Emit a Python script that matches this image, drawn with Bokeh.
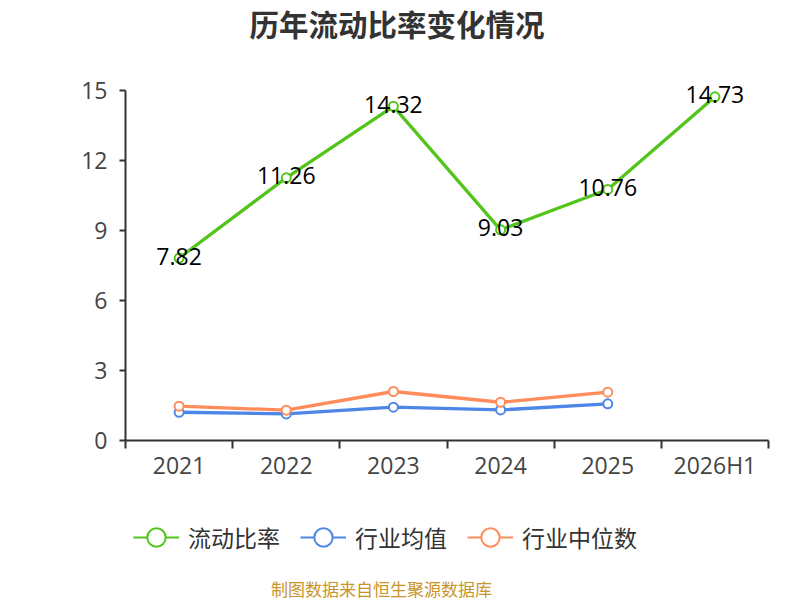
from bokeh.plotting import figure
from bokeh.layouts import column
from bokeh.models import (Range1d, FixedTicker, LinearAxis, ColumnDataSource, Legend, LegendItem,
                          Label, LabelSet)
from bokeh.core.properties import value
from bokeh.embed import file_html
from bokeh.resources import INLINE

# ---- data ----
categories = ["2021", "2022", "2023", "2024", "2025", "2026H1"]
current_ratio = [7.82, 11.26, 14.32, 9.03, 10.76, 14.73]
industry_avg = [1.21, 1.14, 1.43, 1.31, 1.57]
industry_median = [1.47, 1.30, 2.10, 1.64, 2.07]
y_ticks = [0, 3, 6, 9, 12, 15]
series_names = ["流动比率", "行业均值", "行业中位数"]
title_text = "历年流动比率变化情况"
source_text = "制图数据来自恒生聚源数据库"

GREEN = "#52c41a"
BLUE = "#4e86e8"
ORANGE = "#ff8c5a"
CJK = "Noto Sans CJK SC"
LAT = "Open Sans"

W = 800
FRAME_LEFT, FRAME_RIGHT = 125, 768
FRAME_BOTTOM = 440          # canvas px of y = 0
AXIS_AREA = 52
H1 = FRAME_BOTTOM + AXIS_AREA
H2 = 600 - H1
PX_PER_UNIT = 350 / 15.0
y_top = FRAME_BOTTOM / PX_PER_UNIT   # frame reaches canvas top (title lives inside frame)

p = figure(width=W, height=H1, output_backend="svg", toolbar_location=None,
           x_range=Range1d(-0.5, len(categories) - 0.5), y_range=Range1d(0, y_top),
           min_border_left=FRAME_LEFT, min_border_right=W - FRAME_RIGHT, min_border_top=0,
           min_border_bottom=AXIS_AREA, x_axis_type=None, y_axis_type=None)
p.outline_line_color = None
p.background_fill_color = "white"

# axes
xaxis = LinearAxis(ticker=FixedTicker(ticks=list(range(len(categories))),
                                      minor_ticks=[i - 0.5 for i in range(len(categories) + 1)]))
xaxis.major_label_overrides = {i: c for i, c in enumerate(categories)}
xaxis.major_tick_out = 0
xaxis.major_tick_in = 0
xaxis.minor_tick_out = 8
xaxis.minor_tick_in = 0
xaxis.minor_tick_line_color = "#333333"
xaxis.minor_tick_line_width = 2
xaxis.axis_line_color = "#333333"
xaxis.axis_line_width = 2
xaxis.major_label_text_font = LAT
xaxis.major_label_text_font_size = "23px"
xaxis.major_label_text_color = "#444444"
xaxis.major_label_standoff = 0
p.add_layout(xaxis, "below")

yaxis = LinearAxis(ticker=FixedTicker(ticks=y_ticks, minor_ticks=[]), bounds=(0, 15))
yaxis.major_tick_out = 6
yaxis.major_tick_in = 0
yaxis.major_tick_line_color = "#333333"
yaxis.major_tick_line_width = 2
yaxis.axis_line_color = "#333333"
yaxis.axis_line_width = 2
yaxis.major_label_text_font = LAT
yaxis.major_label_text_font_size = "23px"
yaxis.major_label_text_color = "#444444"
yaxis.major_label_standoff = 12
p.add_layout(yaxis, "left")

p.ygrid.ticker = FixedTicker(ticks=y_ticks)
p.ygrid.grid_line_color = "#cccccc"
p.ygrid.grid_line_dash = "7 5"
p.ygrid.grid_line_width = 1.5
p.xgrid.visible = False

# series
xs_all = list(range(len(categories)))
src_main = ColumnDataSource(dict(x=xs_all, y=current_ratio,
                                 t=[f"{v:.2f}" for v in current_ratio]))
src_avg = ColumnDataSource(dict(x=xs_all[:len(industry_avg)], y=industry_avg))
src_med = ColumnDataSource(dict(x=xs_all[:len(industry_median)], y=industry_median))

for src, col in [(src_avg, BLUE), (src_med, ORANGE), (src_main, GREEN)]:
    p.line("x", "y", source=src, line_color=col, line_width=3.3)
    p.scatter("x", "y", source=src, size=9, marker="circle", fill_color="white",
              line_color=col, line_width=2)

labels = LabelSet(x="x", y="y", text="t", source=src_main, text_align="center",
                  text_baseline="middle", y_offset=2, text_font=value(LAT),
                  text_font_size=value("23px"), text_color="#000000")
p.add_layout(labels)

# chart title (inside the frame's empty top area)
p.add_layout(Label(x=396.5 - FRAME_LEFT, y=FRAME_BOTTOM - 22, x_units="screen", y_units="screen",
                   text=title_text, text_align="center", text_baseline="middle",
                   text_font=CJK, text_font_size="29.5px", text_font_style="bold",
                   text_color="#333333"))

# ---- bottom strip: legend + source note (frame aligned with main plot) ----
p2 = figure(width=W, height=H2, output_backend="svg", toolbar_location=None,
            x_range=Range1d(0, FRAME_RIGHT - FRAME_LEFT), y_range=Range1d(0, H2),
            min_border=0, min_border_left=FRAME_LEFT, min_border_right=W - FRAME_RIGHT,
            min_border_top=0, min_border_bottom=0, x_axis_type=None, y_axis_type=None)
p2.outline_line_color = None
p2.xgrid.visible = False
p2.ygrid.visible = False

items = []
for name, col in zip(series_names, [GREEN, BLUE, ORANGE]):
    lr = p2.line(x=[-1000, -999], y=[-1000, -1000], line_color=col, line_width=2)
    sr = p2.scatter(x=[-1000], y=[-1000], marker="circle", fill_color="white",
                    line_color=col, line_width=2)
    items.append(LegendItem(label=name, renderers=[lr, sr]))
legend_center_from_bottom = 600 - 537
legend = Legend(items=items, orientation="horizontal",
                location=(133 - FRAME_LEFT, legend_center_from_bottom - 25),
                glyph_width=46, glyph_height=50, label_standoff=9, spacing=20,
                padding=0, margin=0, border_line_color=None, background_fill_alpha=0,
                label_text_font=CJK, label_text_font_size="23px", label_text_color="#333333")
p2.add_layout(legend, "center")

p2.add_layout(Label(x=381 - FRAME_LEFT, y=600 - 588, x_units="screen", y_units="screen",
                    text=source_text, text_align="center", text_baseline="middle",
                    text_font=CJK, text_font_size="17px", text_color="#c8952a"))

layout = column(p, p2, spacing=0)
open("out.html", "w").write(file_html(layout, INLINE))
